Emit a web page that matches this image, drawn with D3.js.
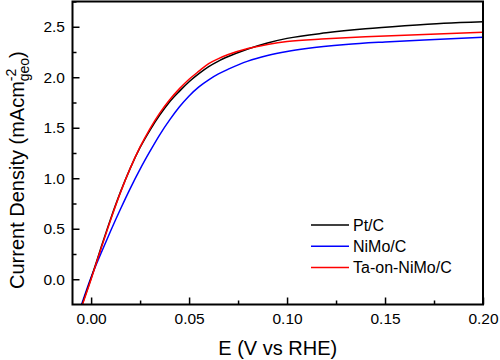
<!DOCTYPE html>
<html><head><meta charset="utf-8">
<script src="https://cdn.jsdelivr.net/npm/d3@7"></script>
<style>body{margin:0;background:#fff}svg{display:block}text{font-family:Arial,"Liberation Sans",sans-serif;fill:#000}</style>
</head><body>
<svg id="c" width="500" height="360"></svg>
<script>
const seriesNames = ["Pt/C", "NiMo/C", "Ta-on-NiMo/C"];
const seriesColors = ["#000000", "#0000ff", "#ff0000"];
const ptX = [-0.0046,0,0.005,0.010,0.015,0.020,0.025,0.030,0.035,0.040,0.045,0.050,0.055,0.060,0.065,0.070,0.080,0.090,0.100,0.120,0.140,0.160,0.180,0.200];
const ptY = [-0.25,0.01,0.31,0.60,0.865,1.10,1.305,1.475,1.625,1.755,1.86,1.955,2.035,2.105,2.16,2.205,2.28,2.34,2.385,2.44,2.48,2.51,2.535,2.55];
const niX = [-0.0049,0,0.005,0.010,0.015,0.020,0.025,0.030,0.035,0.040,0.045,0.050,0.055,0.060,0.065,0.070,0.080,0.090,0.100,0.110,0.130,0.150,0.170,0.200];
const niY = [-0.25,0.02,0.255,0.48,0.695,0.90,1.09,1.265,1.43,1.575,1.705,1.815,1.905,1.975,2.033,2.08,2.16,2.215,2.255,2.285,2.325,2.35,2.37,2.395];
const taX = [-0.0044,0,0.005,0.010,0.015,0.020,0.025,0.030,0.035,0.040,0.045,0.050,0.055,0.060,0.065,0.070,0.080,0.090,0.100,0.120,0.140,0.160,0.180,0.200];
const taY = [-0.25,0.0,0.30,0.59,0.86,1.10,1.31,1.49,1.645,1.775,1.885,1.98,2.06,2.135,2.185,2.225,2.285,2.325,2.355,2.38,2.40,2.415,2.43,2.445];
const xTicks = ["0.00","0.05","0.10","0.15","0.20"];
const yTicks = ["0.0","0.5","1.0","1.5","2.0","2.5"];

const svg = d3.select("#c");
const L = 72.5, R = 483, T = 1.5, B = 304.5;
const x = d3.scaleLinear().domain([-0.0095, 0.2]).range([L, R]);
const y = d3.scaleLinear().domain([-0.25, 2.75]).range([B, T]);

svg.append("defs").append("clipPath").attr("id","clp").append("rect")
  .attr("x", L).attr("y", T).attr("width", R-L).attr("height", B-T);

const data = [
  ptX.map((v,i)=>[v, ptY[i]]),
  niX.map((v,i)=>[v, niY[i]]),
  taX.map((v,i)=>[v, taY[i]])
];
const line = d3.line().x(d=>x(d[0])).y(d=>y(d[1])).curve(d3.curveMonotoneX);
const order = [1,0,2];
const g = svg.append("g").attr("clip-path","url(#clp)");
order.forEach(i=>{
  g.append("path").attr("d", line(data[i])).attr("fill","none")
   .attr("stroke", seriesColors[i]).attr("stroke-width", 1.5);
});

const xMajor = xTicks.map(Number);
const xMinor = [0.025,0.075,0.125,0.175];
const yMajor = yTicks.map(Number);
const yMinor = [0.25,0.75,1.25,1.75,2.25,2.75];

const xAxis = d3.axisBottom(x).tickValues(xMajor).tickFormat((d,i)=>xTicks[i]).tickSizeInner(-7).tickSizeOuter(0).tickPadding(8);
const gx = svg.append("g").attr("transform",`translate(0,${B})`).call(xAxis);
gx.select(".domain").remove();
gx.selectAll("line").attr("stroke","#000").attr("stroke-width",1.5);
gx.selectAll("text").attr("font-size",15.5).attr("font-family",'Arial,"Liberation Sans",sans-serif').attr("fill","#000");
const gxm = svg.append("g").attr("transform",`translate(0,${B})`).call(d3.axisBottom(x).tickValues(xMinor).tickFormat("").tickSizeInner(-4).tickSizeOuter(0));
gxm.select(".domain").remove();
gxm.selectAll("line").attr("stroke","#000").attr("stroke-width",1.5);

const yAxis = d3.axisLeft(y).tickValues(yMajor).tickFormat((d,i)=>yTicks[i]).tickSizeInner(-7).tickSizeOuter(0).tickPadding(7.5);
const gy = svg.append("g").attr("transform",`translate(${L},0)`).call(yAxis);
gy.select(".domain").remove();
gy.selectAll("line").attr("stroke","#000").attr("stroke-width",1.5);
gy.selectAll("text").attr("font-size",15.5).attr("font-family",'Arial,"Liberation Sans",sans-serif').attr("fill","#000");
const gym = svg.append("g").attr("transform",`translate(${L},0)`).call(d3.axisLeft(y).tickValues(yMinor).tickFormat("").tickSizeInner(-4).tickSizeOuter(0));
gym.select(".domain").remove();
gym.selectAll("line").attr("stroke","#000").attr("stroke-width",1.5);

svg.append("rect").attr("x",L).attr("y",T).attr("width",R-L).attr("height",B-T)
  .attr("fill","none").attr("stroke","#000").attr("stroke-width",2);

svg.append("text").attr("x",(L+R)/2).attr("y",355).attr("text-anchor","middle")
  .attr("font-size",20).text("E (V vs RHE)");
const yl = svg.append("text").attr("transform","translate(23.5,289) rotate(-90)")
  .attr("text-anchor","start").attr("font-size",20);
yl.append("tspan").text("Current Density (mAcm");
yl.append("tspan").attr("font-size",14).attr("dy",-8).text("-2");
yl.append("tspan").attr("font-size",14).attr("dx",-12.5).attr("dy",13).text("geo");
yl.append("tspan").attr("dy",-5).text(")");

const lg = svg.append("g");
seriesNames.forEach((n,i)=>{
  const cy = 225 + i*21.3;
  lg.append("line").attr("x1",311).attr("x2",349).attr("y1",cy).attr("y2",cy)
    .attr("stroke",seriesColors[i]).attr("stroke-width",1.5);
  lg.append("text").attr("x",353).attr("y",cy+5.7).attr("font-size",16).text(n);
});
</script>
</body></html>
